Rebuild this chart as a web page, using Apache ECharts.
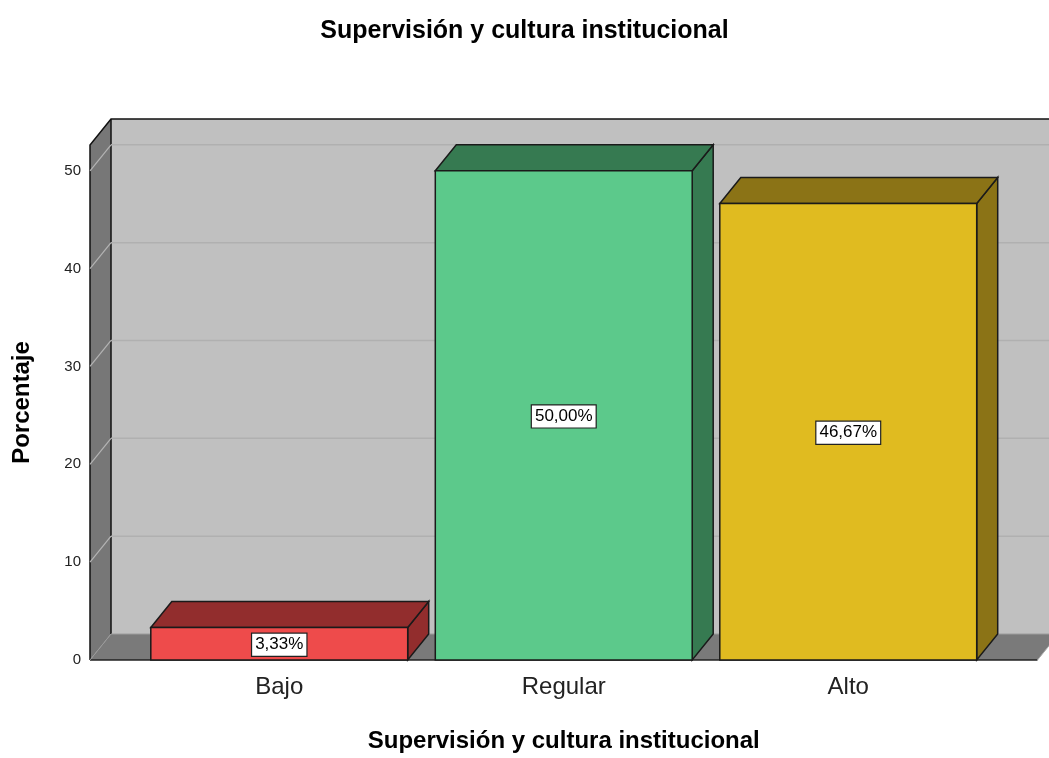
<!DOCTYPE html>
<html>
<head>
<meta charset="utf-8">
<script src="https://cdn.jsdelivr.net/npm/echarts@6/dist/echarts.min.js"></script>
<style>
  html, body { margin: 0; padding: 0; background: #fff; }
  #main { width: 1049px; height: 758px; }
</style>
</head>
<body>
<div id="main"></div>
<script>
// datos
var categorias = ['Bajo', 'Regular', 'Alto'];
var porcentajes = [3.33, 50.00, 46.67];
var ticksY = [10, 20, 30, 40, 50];

var colFrente = ['#ee4b4b', '#5cc98b', '#e0bb20'];
var colOscuro = ['#922d2d', '#367a51', '#8b7316'];

// profundidad del efecto 3D
var DX = 21, DY = 26, PAD = 47;

var myChart = echarts.init(document.getElementById('main'));

function marco(params, api) {
    var cs = params.coordSys;
    var L = cs.x - PAD, R = cs.x + cs.width + PAD, T = cs.y, B = cs.y + cs.height;
    return {
        type: 'group',
        children: [
            { type: 'rect', shape: { x: L + DX, y: T - DY, width: R - L, height: B - T },
              style: { fill: '#c0c0c0' } },
            { type: 'polygon', shape: { points: [[L, T], [L + DX, T - DY], [L + DX, B - DY], [L, B]] },
              style: { fill: '#777777' } },
            { type: 'polygon', shape: { points: [[L, B], [L + DX, B - DY], [R + DX, B - DY], [R, B]] },
              style: { fill: '#7a7a7a' } },
            // bordes
            { type: 'polyline', shape: { points: [[L, B], [L, T], [L + DX, T - DY], [R + DX, T - DY]] },
              style: { stroke: '#111', lineWidth: 1.5, fill: null } },
            { type: 'line', shape: { x1: L + DX, y1: T - DY, x2: L + DX, y2: B - DY },
              style: { stroke: '#111', lineWidth: 1.5 } },
            { type: 'line', shape: { x1: L, y1: B, x2: R, y2: B },
              style: { stroke: '#222', lineWidth: 1.5 } },
            { type: 'line', shape: { x1: L, y1: B, x2: L + DX, y2: B - DY },
              style: { stroke: '#9a9a9a', lineWidth: 1 } },
            { type: 'line', shape: { x1: R, y1: B, x2: R + DX, y2: B - DY },
              style: { stroke: '#aaaaaa', lineWidth: 1 } },
            { type: 'line', shape: { x1: L + DX, y1: B - DY, x2: R + DX, y2: B - DY },
              style: { stroke: '#9c9c9c', lineWidth: 1 } }
        ]
    };
}

function lineas(params, api) {
    var cs = params.coordSys;
    var L = cs.x - PAD, R = cs.x + cs.width + PAD;
    var y = api.coord([0, api.value(1)])[1];
    return {
        type: 'group',
        children: [
            { type: 'line', shape: { x1: L + DX, y1: y - DY, x2: R + DX, y2: y - DY },
              style: { stroke: '#b0b0b0', lineWidth: 1.5 } },
            { type: 'line', shape: { x1: L, y1: y, x2: L + DX, y2: y - DY },
              style: { stroke: '#b4b4b4', lineWidth: 1.2 } }
        ]
    };
}

function barra3d(params, api) {
    var i = api.value(0);
    var v = api.value(1);
    var tope = api.coord([i, v]);
    var base = api.coord([i, 0]);
    var w = api.size([1, 0])[0] * 0.903;
    var x0 = tope[0] - w / 2, x1 = tope[0] + w / 2;
    var yt = tope[1], yb = base[1];
    var borde = { stroke: '#1a1a1a', lineWidth: 1.5 };
    return {
        type: 'group',
        children: [
            { type: 'polygon', shape: { points: [[x1, yt], [x1 + DX, yt - DY], [x1 + DX, yb - DY], [x1, yb]] },
              style: Object.assign({ fill: colOscuro[i] }, borde) },
            { type: 'polygon', shape: { points: [[x0, yt], [x0 + DX, yt - DY], [x1 + DX, yt - DY], [x1, yt]] },
              style: Object.assign({ fill: colOscuro[i] }, borde) },
            { type: 'rect', shape: { x: x0, y: yt, width: w, height: yb - yt },
              style: Object.assign({ fill: colFrente[i] }, borde) },
            { type: 'text', x: tope[0], y: (yt + yb) / 2 + 1,
              style: {
                  text: v.toFixed(2).replace('.', ',') + '%',
                  fill: '#000', fontSize: 17, fontFamily: 'Liberation Sans, Arial, sans-serif',
                  align: 'center', verticalAlign: 'middle',
                  backgroundColor: '#fff', borderColor: '#222', borderWidth: 1.2,
                  padding: [3, 3, 2, 3]
              } }
        ]
    };
}

option = {
    animation: false,
    textStyle: { fontFamily: 'Liberation Sans, Arial, sans-serif' },
    title: {
        text: 'Supervisión y cultura institucional',
        left: 'center',
        top: 14,
        textStyle: { fontSize: 25, fontWeight: 'bold', color: '#000' }
    },
    grid: { left: 137, right: 58.5, top: 145, bottom: 95 },
    xAxis: {
        type: 'category',
        data: categorias,
        axisLine: { show: false },
        axisTick: { show: false },
        axisLabel: { fontSize: 24, color: '#222', margin: 15 },
        name: 'Supervisión y cultura institucional',
        nameLocation: 'middle',
        nameGap: 69,
        nameTextStyle: { fontSize: 24, fontWeight: 'bold', color: '#000' }
    },
    yAxis: {
        type: 'value',
        min: 0,
        max: 52.64,
        interval: 10,
        offset: PAD,
        axisLine: { show: false },
        axisTick: { show: false },
        splitLine: { show: false },
        axisLabel: {
            fontSize: 15, color: '#222', margin: 9,
            formatter: function (v) { return v % 10 === 0 ? v : ''; }
        },
        name: 'Porcentaje',
        nameLocation: 'middle',
        nameRotate: 90,
        nameGap: 56,
        nameTextStyle: { fontSize: 24, fontWeight: 'bold', color: '#000' }
    },
    series: [
        { type: 'custom', z: 1, renderItem: marco, data: [[0, 0]], silent: true },
        { type: 'custom', z: 2, renderItem: lineas, data: ticksY.map(function (t) { return [0, t]; }), silent: true },
        { type: 'custom', z: 3, renderItem: barra3d, data: porcentajes.map(function (p, i) { return [i, p]; }) }
    ]
};

myChart.setOption(option);
</script>
</body>
</html>
